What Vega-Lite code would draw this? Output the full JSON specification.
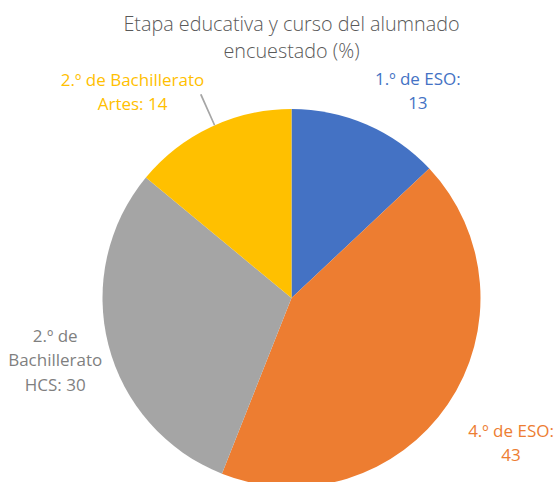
{
  "$schema": "https://vega.github.io/schema/vega-lite/v6.json",
  "autosize": {"type": "none"},
  "padding": {"left": 25, "top": 114, "right": 0, "bottom": 0},
  "width": 533,
  "height": 368,
  "background": "white",
  "config": {"view": {"stroke": null}},
  "title": {
    "text": ["Etapa educativa y curso del alumnado", "encuestado (%)"],
    "font": "Open Sans",
    "fontSize": 19.8,
    "fontWeight": 300,
    "color": "#595959",
    "lineHeight": 27,
    "dy": 28,
    "offset": 0,
    "anchor": "middle"
  },
  "data": {
    "values": [
      {"orden": 1, "cat": "1.º de ESO", "valor": 13, "label": "1.º de ESO:\n13"},
      {"orden": 2, "cat": "4.º de ESO", "valor": 43, "label": "4.º de ESO:\n43"},
      {"orden": 3, "cat": "2.º de Bachillerato HCS", "valor": 30, "label": "2.º de\nBachillerato\nHCS: 30"},
      {"orden": 4, "cat": "2.º de Bachillerato Artes", "valor": 14, "label": "2.º de Bachillerato\nArtes: 14"}
    ]
  },
  "encoding": {
    "theta": {"field": "valor", "type": "quantitative", "stack": true},
    "order": {"field": "orden", "type": "quantitative"},
    "color": {
      "field": "cat",
      "type": "nominal",
      "scale": {
        "domain": ["1.º de ESO", "4.º de ESO", "2.º de Bachillerato HCS", "2.º de Bachillerato Artes"],
        "range": ["#4472C4", "#ED7D31", "#A5A5A5", "#FFC000"]
      },
      "legend": null
    }
  },
  "layer": [
    {"mark": {"type": "arc", "outerRadius": 189}},
    {
      "data": {"values": [{"desde": 93.27, "hasta": 93.4}]},
      "mark": {"type": "arc", "innerRadius": 189, "outerRadius": 223},
      "encoding": {
        "theta": {"field": "desde", "type": "quantitative", "stack": null},
        "theta2": {"field": "hasta"},
        "order": null,
        "color": {"value": "#A6A6A6"}
      }
    },
    {
      "mark": {"type": "text", "radius": 230, "dx": 35, "dy": -7, "font": "Open Sans", "fontSize": 17, "lineBreak": "\n", "lineHeight": 24, "align": "center", "baseline": "middle"},
      "encoding": {
        "color": {"value": "#4472C4"},
        "detail": {"field": "cat"},
        "text": {"condition": {"test": "datum.orden === 1", "field": "label"}, "value": ""}
      }
    },
    {
      "mark": {"type": "text", "radius": 263, "dx": 2, "dy": -14, "font": "Open Sans", "fontSize": 17, "lineBreak": "\n", "lineHeight": 24, "align": "center", "baseline": "middle"},
      "encoding": {
        "color": {"value": "#ED7D31"},
        "detail": {"field": "cat"},
        "text": {"condition": {"test": "datum.orden === 2", "field": "label"}, "value": ""}
      }
    },
    {
      "mark": {"type": "text", "radius": 245, "dx": 1, "dy": -22, "font": "Open Sans", "fontSize": 17, "lineBreak": "\n", "lineHeight": 24.5, "align": "center", "baseline": "middle"},
      "encoding": {
        "color": {"value": "#7F7F7F"},
        "detail": {"field": "cat"},
        "text": {"condition": {"test": "datum.orden === 3", "field": "label"}, "value": ""}
      }
    },
    {
      "mark": {"type": "text", "radius": 230, "dx": -61, "dy": -9, "font": "Open Sans", "fontSize": 17, "lineBreak": "\n", "lineHeight": 24, "align": "center", "baseline": "middle"},
      "encoding": {
        "color": {"value": "#FFC000"},
        "detail": {"field": "cat"},
        "text": {"condition": {"test": "datum.orden === 4", "field": "label"}, "value": ""}
      }
    }
  ]
}
